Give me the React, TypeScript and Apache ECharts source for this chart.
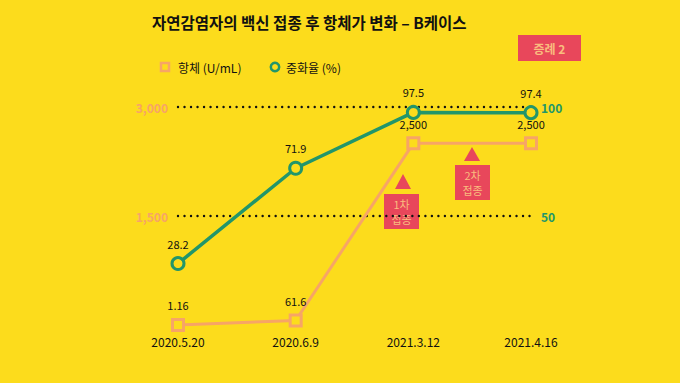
import React, { useEffect, useRef } from "react";
import * as echarts from "echarts";

const categories = ["2020.5.20", "2020.6.9", "2021.3.12", "2021.4.16"];
const antibody = [1.16, 61.6, 2500, 2500];
const neutral = [28.2, 71.9, 97.5, 97.4];
const leftTicks = [0, 1500, 3000];
const rightTicks = [0, 50, 100];

const BG = "#FCDC1C";
const GREEN = "#22966A";
const ORANGE = "#F7A566";
const RED = "#E8475B";
const PEACH = "#F9BC7E";
const FONT = "'Noto Sans CJK KR', 'Noto Sans', sans-serif";

export default function App() {
  const ref = useRef<HTMLDivElement>(null);
  useEffect(() => {
    document.body.style.margin = "0";
    const chart = echarts.init(ref.current!, null, { renderer: "svg" });
    const boxText = (x: number, y: number, t: string) => ({
      type: "text",
      x,
      y,
      style: { text: t, fill: PEACH, fontSize: 11, lineHeight: 12, fontFamily: FONT, align: "center", verticalAlign: "middle" },
    });
    chart.setOption({
      animation: false,
      backgroundColor: BG,
      textStyle: { fontFamily: FONT },
      title: {
        text: "자연감염자의 백신 접종 후 항체가 변화 – B케이스",
        left: 147,
        top: 9,
        textStyle: { fontSize: 15.5, fontWeight: "bold", color: "#111", fontFamily: FONT },
      },
      grid: { left: 178, right: 149, top: 107, bottom: 58 },
      xAxis: {
        type: "category",
        data: categories,
        boundaryGap: false,
        axisLine: { show: false },
        axisTick: { show: false },
        axisLabel: { color: "#111", fontSize: 12, margin: 10, fontFamily: FONT },
        splitLine: { show: false },
      },
      yAxis: [
        {
          type: "value",
          min: leftTicks[0],
          max: leftTicks[2],
          interval: leftTicks[1] - leftTicks[0],
          axisLine: { show: false },
          axisTick: { show: false },
          axisLabel: {
            showMinLabel: false,
            margin: 10,
            color: ORANGE,
            fontSize: 12,
            fontWeight: "bold",
            fontFamily: FONT,
            formatter: (v: number) => v.toLocaleString("en-US"),
          },
          splitLine: {
            show: true,
            showMinLine: false,
            lineStyle: { color: "#111", width: 2.4, type: [0.01, 6.5], cap: "round" },
          },
        },
        {
          type: "value",
          min: rightTicks[0],
          max: rightTicks[2],
          interval: rightTicks[1] - rightTicks[0],
          axisLine: { show: false },
          axisTick: { show: false },
          axisLabel: {
            showMinLabel: false,
            margin: 10,
            color: GREEN,
            fontSize: 12,
            fontWeight: "bold",
            fontFamily: FONT,
          },
          splitLine: { show: false },
        },
      ],
      series: [
        {
          name: "항체 (U/mL)",
          type: "line",
          yAxisIndex: 0,
          data: antibody,
          symbol: "rect",
          symbolSize: 11,
          lineStyle: { color: ORANGE, width: 3 },
          itemStyle: { color: BG, borderColor: ORANGE, borderWidth: 3 },
          label: {
            show: true,
            position: "top",
            distance: 7,
            color: "#111",
            fontSize: 11,
            fontFamily: FONT,
            formatter: (p: any) => (p.value >= 1000 ? p.value.toLocaleString("en-US") : String(p.value)),
          },
          z: 3,
        },
        {
          name: "중화율 (%)",
          type: "line",
          yAxisIndex: 1,
          data: neutral,
          symbol: "circle",
          symbolSize: 12,
          showAllSymbol: true,
          lineStyle: { color: GREEN, width: 3.5 },
          itemStyle: { color: BG, borderColor: GREEN, borderWidth: 3 },
          label: {
            show: true,
            position: "top",
            distance: 7,
            color: "#111",
            fontSize: 11,
            fontFamily: FONT,
          },
          z: 4,
        },
      ],
      graphic: [
        // legend
        { type: "rect", shape: { x: 161, y: 63, width: 8, height: 8 }, style: { fill: BG, stroke: ORANGE, lineWidth: 2.5 } },
        { type: "text", x: 178, y: 67, style: { text: "항체 (U/mL)", fill: "#111", fontSize: 12, fontFamily: FONT, verticalAlign: "middle" } },
        { type: "circle", shape: { cx: 275, cy: 67, r: 4.2 }, style: { fill: BG, stroke: GREEN, lineWidth: 2.5 } },
        { type: "text", x: 286, y: 67, style: { text: "중화율 (%)", fill: "#111", fontSize: 12, fontFamily: FONT, verticalAlign: "middle" } },
        // case box
        { type: "rect", shape: { x: 518, y: 35, width: 63, height: 26 }, style: { fill: RED } },
        { type: "text", x: 549.5, y: 48, style: { text: "증례 2", fill: PEACH, fontSize: 12, fontWeight: "bold", fontFamily: FONT, align: "center", verticalAlign: "middle" } },
        // 1st dose
        { type: "polygon", shape: { points: [[403, 174], [395, 189], [411, 189]] }, style: { fill: RED } },
        { type: "rect", shape: { x: 384, y: 194, width: 35, height: 35 }, style: { fill: RED } },
        boxText(401.5, 204, "1차"),
        boxText(401.5, 219, "접종"),
        // 2nd dose
        { type: "polygon", shape: { points: [[472, 147], [464, 161], [480, 161]] }, style: { fill: RED } },
        { type: "rect", shape: { x: 455, y: 165, width: 35, height: 35 }, style: { fill: RED } },
        boxText(472.5, 175, "2차"),
        boxText(472.5, 190, "접종"),
      ],
    });
    return () => chart.dispose();
  }, []);
  return <div ref={ref} style={{ position: "absolute", left: 0, top: 0, width: 680, height: 383 }} />;
}
